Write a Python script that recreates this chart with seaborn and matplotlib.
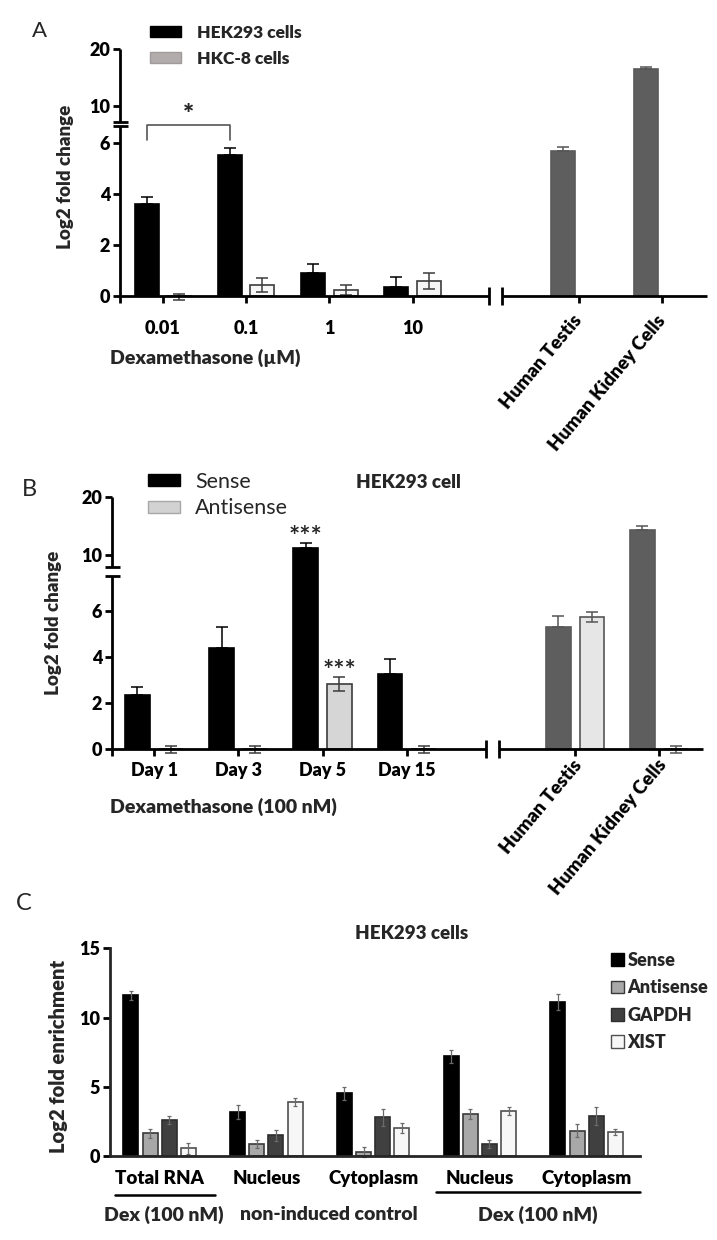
import numpy as np
import pandas as pd
import matplotlib
matplotlib.use("Agg")
import matplotlib.pyplot as plt
import seaborn as sns
from matplotlib.patches import Patch
from matplotlib.container import BarContainer
from matplotlib.transforms import ScaledTranslation

# ---------------- data ----------------
A_conc = ["0.01", "0.1", "1", "10"]
A_tissue = ["Human Testis", "Human Kidney Cells"]
A_series = ["HEK293 cells", "HKC-8 cells"]
A_hek = [3.61, 5.53, 0.90, 0.35, 5.70, 16.5]
A_hek_err = [0.27, 0.26, 0.35, 0.38, 0.13, 0.35]
A_hkc = [-0.03, 0.43, 0.24, 0.59]
A_hkc_err = [0.12, 0.29, 0.20, 0.31]
A_yticks = [0, 2, 4, 6, 10, 20]

B_days = ["Day 1", "Day 3", "Day 5", "Day 15"]
B_tissue = ["Human Testis", "Human Kidney Cells"]
B_series = ["Sense", "Antisense"]
B_sense = [2.35, 4.38, 11.2, 3.26, 5.28, 14.33]
B_sense_err = [0.36, 0.93, 0.85, 0.64, 0.49, 0.70]
B_anti = [0.0, 0.0, 2.81, 0.0, 5.73, 0.0]
B_anti_err = [0.15, 0.15, 0.30, 0.15, 0.20, 0.15]
B_yticks = [0, 2, 4, 6, 10, 20]

C_keys = ["Total RNA|dex", "Nucleus|ctrl", "Cytoplasm|ctrl", "Nucleus|dex", "Cytoplasm|dex"]
C_ticklabels = ["Total RNA", "Nucleus", "Cytoplasm", "Nucleus", "Cytoplasm"]
C_conditions = ["Dex (100 nM)", "non-induced control", "Dex (100 nM)"]
C_series = ["Sense", "Antisense", "GAPDH", "XIST"]
C_sense = [11.6, 3.2, 4.52, 7.2, 11.13]
C_sense_err = [0.30, 0.50, 0.45, 0.48, 0.60]
C_anti = [1.63, 0.87, 0.31, 3.03, 1.83]
C_anti_err = [0.30, 0.28, 0.35, 0.38, 0.48]
C_gapdh = [2.60, 1.49, 2.79, 0.87, 2.89]
C_gapdh_err = [0.28, 0.38, 0.60, 0.28, 0.67]
C_xist = [0.55, 3.90, 2.02, 3.27, 1.76]
C_xist_err = [0.37, 0.30, 0.38, 0.30, 0.22]
C_yticks = [0, 5, 10, 15]

# ---------------- style ----------------
TW = "heavy"
sns.set_theme(style="white")
plt.rcParams["font.family"] = ["Lato", "DejaVu Sans"]
plt.rcParams["font.weight"] = TW
plt.rcParams["axes.labelweight"] = TW
plt.rcParams["axes.linewidth"] = 2.0

W, H = 717, 1240
fig = plt.figure(figsize=(W / 100, H / 100), dpi=100)


def box(l, t, r, b):
    return [l / W, 1 - b / H, (r - l) / W, (b - t) / H]


def P(x, y):
    return (x / W, 1 - y / H)


GAP = " "


def finish_bars(ax, df, order, hue_order, width, style):
    n = len(hue_order)
    step = width / n
    centers = {}
    conts = [c for c in ax.containers if isinstance(c, BarContainer)]
    for cont in conts:
        for bar in cont.patches:
            xc = bar.get_x() + bar.get_width() / 2
            ci = int(round(xc))
            hi = int(round((xc - ci + width / 2) / step - 0.5))
            cat, hue = order[ci], hue_order[hi]
            row = df[(df.cat == cat) & (df.series == hue)].iloc[0]
            fc, ec, ecol, full, lw, cap = style(cat, hue)
            bar.set_facecolor(fc)
            bar.set_edgecolor(ec)
            bar.set_linewidth(1.2)
            val = bar.get_height()
            lo = row.err if full else 0.0
            ax.errorbar(xc, val, yerr=[[lo], [row.err]], fmt="none", ecolor=ecol,
                        elinewidth=lw, capsize=cap, capthick=lw, zorder=3, clip_on=False)
            centers[(cat, hue)] = (xc, val, row.err)
    return centers


def broken_scale(ax, lo_break, hi_val, hi_pos, slope):
    xp = np.array([-1e4, lo_break, hi_val, 1e4])
    fp = np.array([-1e4, lo_break, hi_pos, hi_pos + (1e4 - hi_val) * slope])
    ax.set_yscale("function", functions=(lambda v: np.interp(v, xp, fp),
                                          lambda t: np.interp(t, fp, xp)))


def x_break(ax, b1, b2, xlim, d):
    tr = ax.get_xaxis_transform()
    kw = dict(transform=tr, color="black", lw=2.0, clip_on=False, zorder=4,
              solid_capstyle="butt")
    ax.plot([xlim[0], b1], [0, 0], **kw)
    ax.plot([b2, xlim[1]], [0, 0], **kw)
    for b in (b1, b2):
        ax.plot([b, b], [-d, d], **kw)


def y_break(ax, f1, f2, hw, ext):
    ax.spines["left"].set_visible(False)
    kw = dict(transform=ax.transAxes, color="black", lw=2.0, clip_on=False, zorder=4,
              solid_capstyle="butt")
    ax.plot([0, 0], [-ext, f1], **kw)
    ax.plot([0, 0], [f2, 1], **kw)
    for f in (f1, f2):
        ax.plot([-hw, hw], [f, f], **kw)


def common(ax, xpad):
    ax.spines[["top", "right", "bottom"]].set_visible(False)
    ax.tick_params(axis="y", direction="out", length=5, width=2, pad=2,
                   left=True, colors="black")
    ax.tick_params(axis="x", direction="out", length=5, width=2, pad=xpad,
                   bottom=True, colors="black")
    ax.minorticks_off()
    ax.set_facecolor("none")


def set_ticks(ax, xpos, xlabels, xsize, yticks, ysize=13):
    ax.set_xticks(xpos, labels=xlabels, fontsize=xsize, fontweight=TW)
    ax.set_yticks(yticks, labels=[str(t) for t in yticks], fontsize=ysize, fontweight=TW)


def rotate_tissue(ax, dx, dy, size):
    for lab in ax.get_xticklabels()[4:]:
        lab.set_rotation(50)
        lab.set_ha("right")
        lab.set_va("center")
        lab.set_rotation_mode("anchor")
        lab.set_fontsize(size)
        lab.set_transform(lab.get_transform() +
                          ScaledTranslation(dx / 100, -dy / 100, fig.dpi_scale_trans))


# ================= Panel A =================
axA = fig.add_axes(box(120, 49, 707, 296))
A_order = A_conc + [GAP] + A_tissue
dfA = pd.DataFrame({
    "cat": A_conc + A_tissue + A_conc,
    "series": [A_series[0]] * 6 + [A_series[1]] * 4,
    "value": A_hek + A_hkc,
    "err": A_hek_err + A_hkc_err,
})
wA = 0.78
sns.barplot(data=dfA, x="cat", y="value", hue="series", order=A_order, hue_order=A_series,
            palette={A_series[0]: "black", A_series[1]: "#f6f6f6"}, saturation=1,
            width=wA, gap=0.26, errorbar=None, legend=False, ax=axA)


def styleA(cat, hue):
    if cat in A_tissue:
        return "#5e5e5e", "#5a5a5a", "#555555", False, 1.1, 4.0
    if hue == A_series[0]:
        return "black", "black", "black", False, 1.1, 4.5
    return "#f6f6f6", "#3c3c3c", "#3c3c3c", True, 1.1, 4.5


cA = finish_bars(axA, dfA, A_order, A_series, wA, styleA)
broken_scale(axA, 6.75, 10, 7.451, 0.2235)
xlimA = (-0.517, 6.54)
axA.set_xlim(*xlimA)
axA.set_ylim(0, 20)
common(axA, 12)
set_ticks(axA, [0, 1, 2, 3, 5, 6], A_conc + A_tissue, 13, A_yticks)
rotate_tissue(axA, 0, -2, 13.5)
x_break(axA, 3.92, 4.08, xlimA, 9 / 247)
y_break(axA, (296 - 126) / 247, (296 - 121.7) / 247, 7.5 / 587, 7 / 247)

# significance bracket
x0 = cA[(A_conc[0], A_series[0])][0]
x1 = cA[(A_conc[1], A_series[0])][0]
axA.plot([x0, x0, x1, x1], [6.12, 6.70, 6.70, 6.12], color="#555555", lw=1.2, zorder=3)
axA.annotate("*", xy=((x0 + x1) / 2, 6.70), xytext=(0, -1), textcoords="offset points",
             ha="center", va="bottom", fontsize=19)

axA.set_ylabel("Log2 fold change", fontsize=13.5, va="center")
axA.yaxis.set_label_coords(*P(65, 176.5), transform=fig.transFigure)
axA.set_xlabel("Dexamethasone (\u00b5M)", fontsize=14, ha="left", va="center")
axA.xaxis.set_label_coords(*P(110, 358), transform=fig.transFigure)
axA.legend(handles=[Patch(fc="black", ec="black"), Patch(fc="#b2acac", ec="#a09a9a")],
           labels=A_series, loc="upper left", bbox_to_anchor=P(150, 25),
           bbox_transform=fig.transFigure, frameon=False, borderpad=0, borderaxespad=0,
           handlelength=1.8, handleheight=0.6, handletextpad=0.9, labelspacing=0.55,
           prop={"size": 12.5, "weight": TW})
fig.text(*P(32, 31), "A", fontsize=16, fontweight="normal", ha="left", va="center")

# ================= Panel B =================
axB = fig.add_axes(box(112, 497.3, 703, 749.3))
B_order = B_days + [GAP] + B_tissue
dfB = pd.DataFrame({
    "cat": (B_days + B_tissue) * 2,
    "series": [B_series[0]] * 6 + [B_series[1]] * 6,
    "value": B_sense + B_anti,
    "err": B_sense_err + B_anti_err,
})
wB = 0.8
sns.barplot(data=dfB, x="cat", y="value", hue="series", order=B_order, hue_order=B_series,
            palette={B_series[0]: "black", B_series[1]: "#d6d6d6"}, saturation=1,
            width=wB, gap=0.27, errorbar=None, legend=False, ax=axB)


def styleB(cat, hue):
    if cat in B_tissue:
        if hue == B_series[0]:
            return "#5e5e5e", "#5a5a5a", "#555555", False, 1.1, 4.0
        return "#e6e6e6", "#555555", "#555555", True, 1.1, 4.0
    if hue == B_series[0]:
        return "black", "black", "black", False, 1.1, 4.5
    return "#d6d6d6", "#3c3c3c", "#3c3c3c", True, 1.1, 4.5


cB = finish_bars(axB, dfB, B_order, B_series, wB, styleB)
broken_scale(axB, 7.6, 10, 8.41, 0.2498)
xlimB = (-0.501, 6.52)
axB.set_xlim(*xlimB)
axB.set_ylim(0, 20)
common(axB, 4)
set_ticks(axB, [0, 1, 2, 3, 5, 6], B_days + B_tissue, 13, B_yticks)
rotate_tissue(axB, 4, 0, 13.5)
x_break(axB, 3.94, 4.10, xlimB, 9 / 252)
y_break(axB, (749.3 - 576) / 252, (749.3 - 566.7) / 252, 7.5 / 591, 7 / 252)

for key in [(B_days[2], B_series[0]), (B_days[2], B_series[1])]:
    xc, v, e = cB[key]
    axB.annotate("***", xy=(xc, v + e), xytext=(0, -4), textcoords="offset points",
                 ha="center", va="bottom", fontsize=19, fontweight="bold")

axB.set_ylabel("Log2 fold change", fontsize=13.5, va="center")
axB.yaxis.set_label_coords(*P(53, 623), transform=fig.transFigure)
axB.set_xlabel("Dexamethasone (100 nM)", fontsize=14, ha="left", va="center")
axB.xaxis.set_label_coords(*P(110, 806.7), transform=fig.transFigure)
axB.legend(handles=[Patch(fc="black", ec="black"), Patch(fc="#d2d2d2", ec="#a8a8a8")],
           labels=B_series, loc="upper left", bbox_to_anchor=P(148, 472),
           bbox_transform=fig.transFigure, frameon=False, borderpad=0, borderaxespad=0,
           handlelength=1.5, handleheight=0.5, handletextpad=0.7, labelspacing=0.3,
           prop={"size": 15.5, "weight": "normal"})
fig.text(*P(408, 482.7), "HEK293 cell", fontsize=13.5, ha="center", va="center")
fig.text(*P(22, 490), "B", fontsize=17, fontweight="normal", ha="left", va="center")

# ================= Panel C =================
axC = fig.add_axes(box(110, 948.3, 640, 1156))
dfC = pd.DataFrame({
    "cat": C_keys * 4,
    "series": sum([[s] * 5 for s in C_series], []),
    "value": C_sense + C_anti + C_gapdh + C_xist,
    "err": C_sense_err + C_anti_err + C_gapdh_err + C_xist_err,
})
C_fill = {"Sense": "black", "Antisense": "#a8a8a8", "GAPDH": "#404040", "XIST": "#f7f7f7"}
C_edge = {"Sense": "black", "Antisense": "#3a3a3a", "GAPDH": "#2e2e2e", "XIST": "#505050"}
wC = 0.72
sns.barplot(data=dfC, x="cat", y="value", hue="series", order=C_keys, hue_order=C_series,
            palette=C_fill, saturation=1, width=wC, gap=0.22, errorbar=None, legend=False,
            ax=axC)


def styleC(cat, hue):
    return C_fill[hue], C_edge[hue], "#6a6a6a", True, 0.9, 1.5


finish_bars(axC, dfC, C_keys, C_series, wC, styleC)
axC.set_xlim(-0.465, 4.5)
axC.set_ylim(0, 15)
common(axC, 10)
axC.spines["bottom"].set_visible(True)
axC.spines["bottom"].set_zorder(4)
set_ticks(axC, list(range(5)), C_ticklabels, 13.5, C_yticks)
axC.set_xlabel("")
axC.tick_params(axis="x", length=0)
axC.set_ylabel("Log2 fold enrichment", fontsize=14.5, va="center")
axC.yaxis.set_label_coords(*P(58, 1056.7), transform=fig.transFigure)

trC = axC.get_xaxis_transform()
hC = 1156 - 948.3
axC.plot([-0.42, 0.52], [(1156 - 1195) / hC] * 2, transform=trC, color="black", lw=1.8,
         clip_on=False)
axC.plot([2.59, 4.5], [(1156 - 1191.7) / hC] * 2, transform=trC, color="black", lw=1.8,
         clip_on=False)
for xc, lab in zip([0.04, 1.585, 3.54], C_conditions):
    axC.text(xc, (1156 - 1215) / hC, lab, transform=trC, ha="center", va="center",
             fontsize=14)
axC.legend(handles=[Patch(fc=C_fill[s], ec=C_edge[s], lw=1) for s in C_series],
           labels=C_series, loc="upper left", bbox_to_anchor=P(611, 952),
           bbox_transform=fig.transFigure, frameon=False, borderpad=0, borderaxespad=0,
           handlelength=0.72, handleheight=0.72, handletextpad=0.2, labelspacing=0.57,
           prop={"size": 13, "weight": TW})
fig.text(*P(412, 933.3), "HEK293 cells", fontsize=13.5, ha="center", va="center")
fig.text(*P(16, 903), "C", fontsize=17, fontweight="normal", ha="left", va="center")

fig.savefig("out.png", dpi=100, facecolor="white")
